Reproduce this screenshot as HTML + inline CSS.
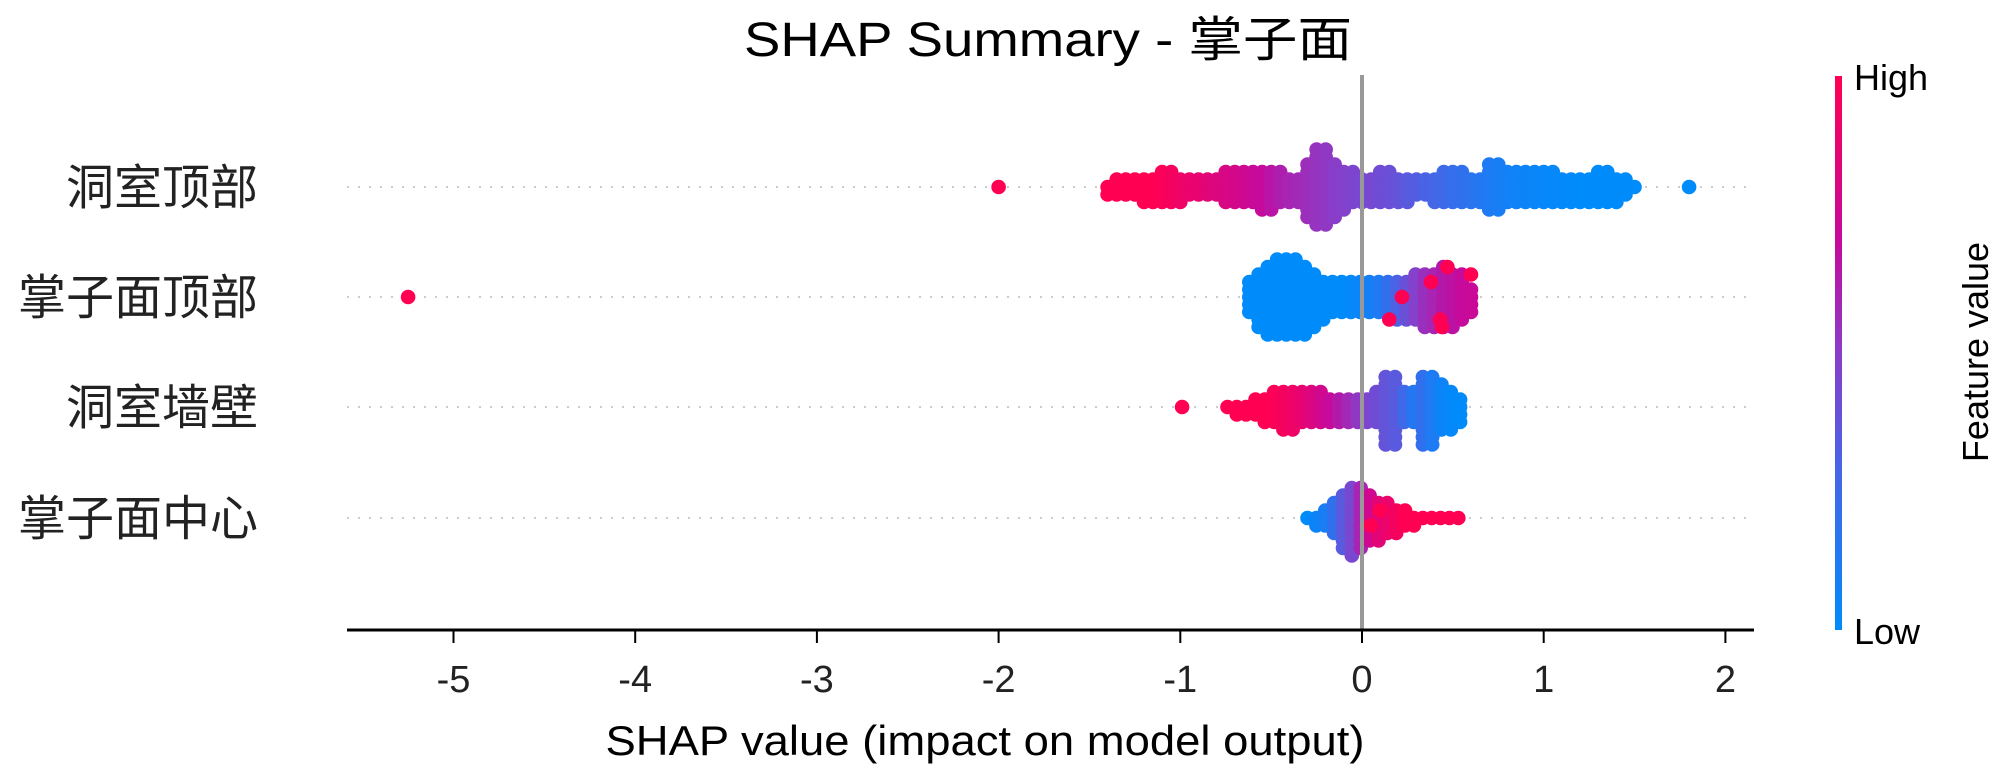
<!DOCTYPE html>
<html><head><meta charset="utf-8"><style>
html,body{margin:0;padding:0;background:#fff;}
svg{display:block;font-family:"Liberation Sans","Noto Sans CJK SC",sans-serif;}
</style></head><body>
<svg id="chart" width="2000" height="784" viewBox="0 0 2000 784" xmlns="http://www.w3.org/2000/svg">
<defs>
<linearGradient id="cbar" x1="0" y1="1" x2="0" y2="0">
<stop offset="0" stop-color="#008bfb"/><stop offset="0.3" stop-color="#4a63e6"/><stop offset="0.5" stop-color="#8a3dc8"/><stop offset="0.7" stop-color="#c50a9c"/><stop offset="1" stop-color="#ff0052"/>
</linearGradient>
</defs>
<text x="1048" y="56" font-size="48" text-anchor="middle" textLength="608" lengthAdjust="spacingAndGlyphs" fill="#000">SHAP Summary - 掌子面</text>
<g id="rowlines"></g>
<g id="labels"></g>
<g id="dots"></g>
<line x1="1362" y1="75" x2="1362" y2="630" stroke="#999" stroke-width="4"/>
<line x1="347" y1="630" x2="1754" y2="630" stroke="#000" stroke-width="3"/>
<g id="ticks"></g>
<text x="985" y="755" font-size="42" text-anchor="middle" textLength="759" lengthAdjust="spacingAndGlyphs" fill="#000">SHAP value (impact on model output)</text>
<rect x="1835" y="76" width="7" height="554" fill="url(#cbar)"/>
<text x="1854" y="90" font-size="36" fill="#000">High</text>
<text x="1854" y="644" font-size="36" fill="#000">Low</text>
<text x="0" y="0" font-size="36" text-anchor="middle" fill="#000" transform="translate(1988,352) rotate(-90)">Feature value</text>
</svg>
<script>
const features = ["洞室顶部","掌子面顶部","洞室墙壁","掌子面中心"];
const xTicks = [-5,-4,-3,-2,-1,0,1,2];
// bin-based swarm data: start and end SHAP value, per-bin dot counts and feature values
const row1Range = [-1.40, 1.50];
const row1Counts = [2,3,3,3,4,4,5,5,4,3,3,3,3,5,5,5,5,6,6,5,4,4,8,11,11,8,6,5,4,4,5,5,4,4,3,3,4,5,5,5,4,4,7,7,5,5,5,5,5,5,4,4,4,4,5,5,4,3,1];
const row1Feat = [1,1,1,1,1,1,0.98,0.95,0.92,0.9,0.88,0.85,0.82,0.8,0.78,0.75,0.72,0.7,0.66,0.62,0.6,0.58,0.56,0.54,0.52,0.5,0.48,0.46,0.45,0.44,0.42,0.4,0.38,0.35,0.33,0.3,0.28,0.25,0.22,0.2,0.18,0.15,0.12,0.1,0.08,0.06,0.05,0.04,0.03,0.02,0.02,0.01,0,0,0,0,0,0,0];
const row2Range = [-0.62, 0.60];
const row2Counts = [5,8,10,11,11,11,10,8,6,5,5,5,5,5,5,5,6,6,7,8,8,9,8,7,4];
const row2Feat = [0,0,0,0,0,0,0,0,0,0,0,0.02,0.04,0.08,0.12,0.2,0.3,0.4,0.48,0.55,0.6,0.64,0.67,0.7,0.72];
const row3Range = [-0.74, 0.54];
const row3Counts = [1,2,2,3,4,5,6,6,5,5,5,4,4,4,4,4,5,10,10,5,5,10,10,7,6,4];
const row3Feat = [1,1,1,1,1,0.98,0.95,0.92,0.88,0.82,0.76,0.7,0.64,0.58,0.52,0.46,0.42,0.38,0.35,0.25,0.15,0.2,0.12,0.05,0.02,0];
const row4Range = [-0.30, 0.53];
const row4Counts = [1,2,3,5,8,10,9,7,6,5,4,3,2,1,1,1,1,1];
const row4Feat = [0,0.05,0.1,0.2,0.35,0.45,0.6,0.75,0.85,0.9,0.95,1,1,1,1,1,1,1];
// individual extra points: [row, shap value, feature value, vertical layer]
const extraPts = [[0,-2.0,1,0],[0,1.8,0,0],[1,-5.25,1,0],[1,0.22,1,0],[1,0.47,1,-4],[1,0.38,1,-2],[1,0.43,1,3],[1,0.44,1,4],[1,0.15,1,3],[1,0.6,1,-3],[2,-0.99,1,0],[3,0.05,1,1],[3,0.1,1,-1]];

const NS="http://www.w3.org/2000/svg";
const x0=1362, unit=181.7;
const xs=v=>x0+v*unit;
const rowY=[187,297,407,518];
const ys=i=>rowY[i];
const gap=7.5, R=7.3;
const stops=[[0,[0,139,251]],[0.3,[74,99,230]],[0.5,[138,61,200]],[0.7,[197,10,156]],[1,[255,0,82]]];
function col(t){t=Math.max(0,Math.min(1,t));for(let i=1;i<stops.length;i++){if(t<=stops[i][0]){const a=stops[i-1],b=stops[i];const f=(t-a[0])/(b[0]-a[0]);const c=a[1].map((v,k)=>Math.round(v+(b[1][k]-v)*f));return `rgb(${c})`;}}return 'rgb(255,0,82)';}
const rl=document.getElementById('rowlines'), lb=document.getElementById('labels'), dg=document.getElementById('dots'), tg=document.getElementById('ticks');
features.forEach((f,i)=>{
  const l=document.createElementNS(NS,'line');
  
  
  l.setAttribute('x1',347);l.setAttribute('x2',1754);l.setAttribute('y1',ys(i));l.setAttribute('y2',ys(i));
  l.setAttribute('stroke','#ccc');l.setAttribute('stroke-width','2');l.setAttribute('stroke-dasharray','2,9');
  rl.appendChild(l);
  const t=document.createElementNS(NS,'text');
  
  
  t.setAttribute('x',258);t.setAttribute('y',ys(i)+17);t.setAttribute('text-anchor','end');
  t.setAttribute('font-size','48');t.setAttribute('fill','#222');
  t.textContent=f;lb.appendChild(t);
});
function dot(v,y,fv){
  const c=document.createElementNS(NS,'circle');
  
  
  c.setAttribute('cx',xs(v).toFixed(1));c.setAttribute('cy',y.toFixed(1));c.setAttribute('r',R);c.setAttribute('fill',col(fv));
  dg.appendChild(c);
}
const rows=[[row1Range,row1Counts,row1Feat],[row2Range,row2Counts,row2Feat],[row3Range,row3Counts,row3Feat],[row4Range,row4Counts,row4Feat]];
rows.forEach(([rg,cs,fs],i)=>{
  const step=(rg[1]-rg[0])/(cs.length-1);
  cs.forEach((n,b)=>{
    const v=rg[0]+b*step;
    for(let k=0;k<n;k++){
      const layer=k===0?0:(k%2?Math.ceil(k/2):-Math.ceil(k/2));
      dot(v,ys(i)+layer*gap,fs[b]);
    }
  });
});
extraPts.forEach(p=>dot(p[1],ys(p[0])+p[3]*gap,p[2]));
xTicks.forEach(v=>{
  const l=document.createElementNS(NS,'line');
  
  
  l.setAttribute('x1',xs(v));l.setAttribute('x2',xs(v));l.setAttribute('y1',630);l.setAttribute('y2',643);
  l.setAttribute('stroke','#000');l.setAttribute('stroke-width','2');
  tg.appendChild(l);
  const t=document.createElementNS(NS,'text');
  
  
  t.setAttribute('x',xs(v));t.setAttribute('y',692);t.setAttribute('text-anchor','middle');
  t.setAttribute('font-size','38');t.setAttribute('fill','#222');
  t.textContent=String(v);tg.appendChild(t);
});
</script>
</body></html>
